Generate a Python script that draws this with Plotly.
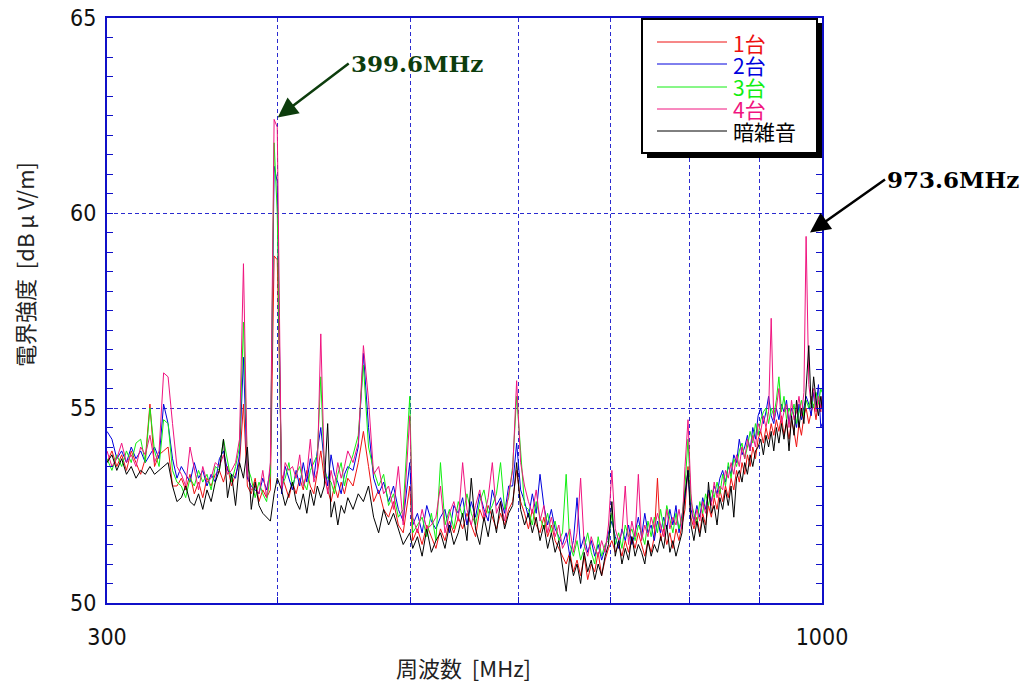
import plotly.graph_objects as go
import math

# ---------------- data ----------------
FREQ_MHZ = [
    300, 302.5, 305, 307.5, 310, 312.5, 315, 317.5, 320, 322.5,
    325, 327.5, 330, 332.5, 335, 337.5, 340, 342.5, 345, 347.5,
    350, 352.5, 355, 357.5, 360, 362.5, 365, 367.5, 370, 372.5,
    375, 377.5, 380, 382.5, 385, 387.5, 390, 392.5, 395, 397.5,
    399.6, 402.5, 405, 407.5, 410, 412.5, 415, 417.5, 420, 422.5,
    425, 427.5, 430, 432.5, 435, 437.5, 440, 442.5, 445, 447.5, 450,
    454, 458, 462, 466, 470, 474, 478, 482, 486, 490,
    494, 499.5, 502, 506, 510, 514, 518, 522, 526, 530,
    534, 538, 542, 546, 550, 554, 558, 562, 566, 570,
    574, 578, 582, 586, 590, 594, 598, 602, 606, 610,
    614, 618, 622, 626, 630, 634, 638, 642, 646, 650,
    654, 658, 662, 666, 670, 674, 678, 682, 686, 690,
    694, 698, 702, 706, 710, 714, 718, 722, 726, 730,
    734, 738, 742, 746, 750, 754, 758, 762, 766, 770,
    774, 778, 782, 786, 790, 794, 798, 802, 806, 810,
    814, 818, 822, 826, 830, 834, 838, 842, 846, 850,
    854, 858, 862, 866, 870, 874, 878, 882, 886, 890,
    894, 898, 902, 906, 910, 914, 918, 922, 926, 930,
    934, 938, 942, 946, 950, 954, 958, 962, 966, 970,
    973.6, 978, 982, 986, 990, 994, 998, 1000,
]

UNIT_1 = [
    53.6, 53.9, 53.5, 53.8, 53.4, 53.9, 53.6, 53.3, 53.7, 55.1,
    53.5, 53.8, 53.9, 54.0, 53.0, 53.0, 53.2, 52.9, 53.3, 52.8,
    53.1, 52.7, 53.2, 53.0, 53.3, 53.4, 53.1, 53.5, 53.0, 53.3,
    53.6, 55.1, 53.0, 52.8, 53.2, 52.6, 52.9, 52.7, 52.9, 58.9,
    58.8, 53.3, 53.0, 52.7, 53.1, 52.8, 53.2, 52.9, 53.4, 53.0,
    52.8, 53.3, 53.9, 53.2, 52.9, 52.6, 53.0, 52.7, 53.1, 52.8, 53.2,
    53.0, 53.6, 54.4, 53.5, 52.6, 52.9, 52.4, 52.2, 52.6, 52.0,
    51.8, 53.0, 51.6, 51.9, 51.5, 52.0, 51.7, 51.4, 51.9, 51.6,
    52.1, 51.8, 52.2, 51.9, 52.3, 52.0, 51.7, 52.4, 52.1, 52.5,
    52.2, 51.9, 52.3, 52.0, 52.4, 52.6, 53.4, 52.6, 52.3, 51.9,
    52.4, 52.0, 51.8, 52.2, 51.7, 52.0, 51.6, 51.4, 51.2, 51.0,
    51.3, 50.8, 51.1, 50.7, 51.2, 50.6, 51.0, 50.8, 51.3, 50.7,
    51.1, 51.4, 51.6, 51.3, 51.5, 51.2, 51.6, 51.3, 51.7, 51.4,
    51.8, 51.5, 51.2, 51.6, 51.3, 51.7, 53.2, 51.6, 51.9, 51.5,
    51.8, 51.4, 51.9, 51.6, 52.0, 52.4, 53.5, 52.2, 51.9, 52.2,
    51.8, 52.3, 52.0, 52.5, 52.2, 52.7, 52.4, 52.9, 52.6, 53.0,
    52.7, 53.2, 52.9, 53.4, 53.1, 53.6, 53.3, 53.8, 53.5, 54.0,
    53.7, 54.2, 54.4, 54.1, 54.5, 54.2, 54.6, 54.3, 54.7, 54.4,
    54.8, 54.3, 54.6, 54.2, 54.7, 54.4, 54.0, 54.6, 54.3, 54.8,
    55.0, 54.6, 54.9, 55.1, 54.7, 55.2, 54.9, 55.3,
]

UNIT_2 = [
    54.4, 54.2, 53.7, 53.9, 53.6, 54.0, 53.7, 53.9, 53.6, 53.8,
    54.0, 53.7, 55.1, 54.6, 53.7, 53.2, 53.5, 53.3, 53.1, 53.6,
    53.2, 53.4, 53.0, 53.3, 53.1, 53.7, 53.9, 53.4, 53.3, 53.2,
    53.8, 56.3, 53.2, 53.0, 52.9, 52.8, 53.2, 52.9, 53.4, 61.2,
    60.8, 52.8, 53.5, 53.2, 52.9, 53.4, 53.0, 53.6, 53.1, 53.7,
    53.2, 53.9, 54.5, 53.6, 53.0, 53.8, 53.3, 53.1, 52.8, 53.3, 53.5,
    53.4, 54.0, 56.4, 54.5, 53.2, 52.8, 53.1, 52.6, 53.0, 52.4,
    52.1, 53.6, 52.0, 52.3, 51.8, 52.5, 52.1, 51.9, 52.2, 52.4,
    51.8, 52.5, 52.3, 52.7, 52.0, 52.6, 52.2, 52.8, 52.4, 52.1,
    52.9, 52.5, 52.7, 52.3, 53.0, 53.0, 54.1, 52.9, 52.6, 52.2,
    52.8, 52.3, 53.3, 52.5, 52.0, 52.4, 51.9, 51.7, 51.5, 51.8,
    51.2, 51.6, 52.7, 51.4, 51.7, 51.3, 51.6, 51.2, 51.5, 51.1,
    51.4, 51.8, 52.1, 51.7, 51.4, 51.9, 51.6, 52.0, 51.5, 51.8,
    52.2, 51.7, 52.3, 51.8, 52.0, 51.6, 52.1, 51.8, 52.2, 51.9,
    52.4, 52.0, 52.5, 51.8, 52.3, 52.7, 53.4, 52.4, 52.1, 52.5,
    52.2, 52.7, 52.4, 52.9, 52.6, 53.0, 52.8, 53.2, 53.4, 53.1,
    53.5, 53.3, 53.8, 53.6, 54.2, 53.8, 54.0, 54.3, 53.9, 54.5,
    54.2, 54.8, 55.0, 54.6, 54.9, 55.3, 54.8, 54.6, 55.0, 54.7,
    55.1, 54.9, 55.2, 54.6, 55.0, 54.8, 54.5, 55.1, 54.7, 55.0,
    55.3, 55.1, 54.8, 55.4, 55.0, 55.6, 54.5, 54.6,
]

UNIT_3 = [
    53.7, 53.4, 53.8, 53.5, 53.9, 53.6, 54.1, 54.2, 53.6, 55.0,
    53.9, 53.5, 54.7, 54.6, 53.4, 53.1, 53.0, 52.7, 53.2, 53.0,
    53.4, 53.1, 53.3, 52.9, 53.5, 53.4, 54.2, 53.6, 53.1, 53.5,
    54.0, 57.2, 53.5, 53.2, 52.7, 53.1, 52.8, 52.6, 53.3, 61.8,
    60.0, 53.0, 53.2, 53.6, 53.0, 53.3, 53.5, 53.1, 52.9, 53.4,
    53.6, 53.8, 55.8, 53.4, 53.2, 53.1, 52.8, 53.3, 53.6, 53.0, 53.4,
    53.8, 54.3, 56.1, 54.0, 53.4, 53.0, 53.3, 52.5, 52.8, 52.2,
    52.4, 55.3, 51.8, 52.0, 52.2, 51.7, 52.3, 51.6, 53.6, 52.0,
    52.4, 51.9, 52.6, 52.2, 52.8, 52.3, 52.0, 52.6, 52.9, 52.3,
    52.5, 52.8, 53.6, 52.4, 52.7, 53.5, 55.3, 53.9, 52.5, 52.4,
    52.0, 52.6, 52.2, 51.9, 52.3, 51.8, 52.1, 51.6, 51.8, 53.3,
    51.5, 51.2, 51.6, 51.1, 51.4, 51.8, 51.3, 51.0, 51.7, 51.2,
    51.5, 51.6, 52.3, 51.5, 51.8, 51.4, 52.0, 51.7, 51.9, 51.6,
    52.0, 51.8, 51.5, 52.1, 51.7, 52.2, 51.8, 52.4, 51.9, 52.5,
    52.1, 51.8, 52.3, 51.9, 52.2, 53.0, 54.2, 52.6, 52.3, 52.0,
    52.6, 52.3, 52.8, 52.5, 52.9, 52.7, 53.1, 52.8, 53.3, 53.0,
    53.6, 53.2, 53.7, 53.5, 53.9, 54.1, 53.7, 54.0, 54.4, 54.1,
    54.6, 54.3, 54.7, 54.9, 55.0, 54.6, 55.0, 54.8, 55.2, 55.8,
    54.9, 55.3, 54.7, 55.0, 54.8, 55.1, 54.6, 54.9, 55.2, 54.8,
    55.2, 55.0, 55.3, 55.0, 55.4, 55.1, 55.5, 55.4,
]

UNIT_4 = [
    53.9, 53.5, 53.7, 54.1, 53.6, 53.8, 53.5, 54.0, 53.8, 54.3,
    53.6, 53.9, 55.9, 55.8, 54.6, 53.5, 53.3, 53.0, 54.0, 53.4,
    52.9, 53.5, 53.1, 53.2, 53.6, 53.5, 53.8, 53.3, 53.4, 53.6,
    54.2, 58.7, 53.3, 52.9, 53.0, 52.8, 53.4, 52.7, 53.6, 62.4,
    62.2, 52.9, 53.6, 53.4, 53.5, 53.2, 53.8, 53.0, 53.3, 54.2,
    53.1, 53.4, 56.9, 53.5, 52.8, 53.4, 53.0, 53.6, 53.2, 53.5, 53.9,
    53.6, 54.1, 56.6, 55.2, 53.3, 53.5, 52.8, 53.0, 52.4, 53.5,
    52.0, 54.8, 52.2, 51.8, 52.4, 51.9, 52.0, 52.2, 53.0, 51.8,
    52.3, 52.6, 52.1, 53.6, 52.4, 52.0, 52.5, 52.9, 52.2, 52.7,
    53.6, 52.3, 52.6, 52.1, 52.8, 53.4, 55.7, 53.6, 53.0, 52.6,
    52.3, 52.9, 52.1, 52.5, 51.8, 52.2, 51.7, 52.0, 51.4, 51.6,
    51.9, 51.3, 51.8, 53.2, 51.5, 51.2, 51.7, 51.4, 51.2, 51.6,
    51.3, 52.0, 53.4, 51.9, 51.6, 51.8, 53.0, 51.5, 52.1, 51.7,
    53.3, 51.6, 52.0, 51.7, 52.2, 51.9, 52.3, 52.0, 51.7, 52.4,
    51.9, 52.2, 52.0, 52.4, 51.9, 53.5, 54.7, 52.8, 52.0, 52.4,
    52.1, 52.6, 52.3, 52.8, 52.5, 53.1, 52.7, 53.0, 52.9, 53.4,
    53.2, 53.6, 53.3, 53.8, 53.5, 54.0, 53.7, 54.2, 53.9, 54.3,
    54.0, 54.6, 54.4, 54.8, 54.5, 54.9, 57.3, 54.7, 55.0, 55.5,
    54.6, 54.9, 55.1, 54.5, 55.2, 54.7, 54.9, 55.3, 54.8, 55.4,
    59.4, 55.6, 55.1, 55.5, 54.9, 55.3, 55.0, 55.2,
]

BACKGROUND_NOISE = [
    53.6, 53.8, 53.4, 53.7, 53.3, 53.5, 53.2, 53.4, 53.3, 53.5,
    53.3, 53.4, 53.5, 53.6, 53.0, 52.6, 52.7, 53.0, 52.6, 52.5,
    52.8, 52.4, 52.9, 52.6, 53.1, 53.4, 54.2, 52.7, 53.3, 52.5,
    53.6, 53.2, 54.0, 52.4, 53.1, 52.5, 52.3, 52.2, 52.1, 52.8,
    53.2, 52.9, 52.5, 52.8, 53.1, 52.6, 52.4, 52.8, 52.3, 52.9,
    52.5, 53.0, 52.7, 53.0, 54.6, 52.2, 52.6, 52.0, 52.5, 52.3, 52.7,
    52.4, 52.8, 52.6, 53.0, 52.2, 51.8, 52.4, 52.0, 52.3, 51.9,
    51.5, 51.8, 51.4, 51.7, 51.2, 51.9, 51.3, 51.6, 51.8, 51.4,
    52.0, 51.5, 51.8, 52.3, 51.6, 53.2, 51.9, 51.5, 52.2, 51.7,
    52.4, 51.8, 52.6, 51.9, 52.3, 52.5, 53.6, 52.4, 52.0, 52.3,
    51.8, 52.2, 51.6, 52.0, 51.4, 51.8, 51.3, 51.6, 50.9, 50.3,
    51.2, 50.7, 51.0, 50.5, 51.3, 50.8, 51.1, 50.6, 51.0, 50.7,
    51.2, 51.5, 52.6, 51.2, 51.6, 51.0, 51.4, 51.1, 51.7, 51.2,
    51.5, 51.3, 51.0, 51.6, 51.2, 51.5, 51.3, 51.7, 51.4, 52.0,
    51.3, 51.6, 51.2, 51.5, 51.8, 52.8, 53.4, 52.0, 51.6, 52.1,
    51.7, 52.2, 51.8, 53.1, 52.3, 52.5, 52.0, 52.7, 52.4, 52.9,
    52.5, 53.0, 52.2, 53.2, 53.4, 53.1, 53.6, 53.3, 53.8, 53.5,
    53.9, 54.0, 54.2, 53.8, 54.3, 54.0, 54.4, 53.9, 54.5, 54.1,
    54.6, 54.2, 54.7, 53.9, 54.8, 54.3, 55.2, 54.5, 55.0, 54.6,
    55.4, 56.6, 55.0, 55.8, 55.2, 54.8, 55.3, 55.0,
]

SERIES_NAMES = ["1台", "2台", "3台", "4台", "暗雑音"]
SERIES_VALUES = [UNIT_1, UNIT_2, UNIT_3, UNIT_4, BACKGROUND_NOISE]
SERIES_COLORS = ["#ee1111", "#0000dd", "#11ee11", "#f0147f", "#000000"]

X_TICK_VALUES = [300, 400, 500, 600, 700, 800, 900, 1000]
X_TICK_TEXT = ["300", "", "", "", "", "", "", "1000"]
Y_TICK_VALUES = [50, 55, 60, 65]
Y_RANGE = [50, 65]

PEAK_LABELS = ["399.6MHz", "973.6MHz"]
PEAK_FREQS = [399.9, 980.0]
PEAK_LEVELS = [62.45, 59.5]

for s in SERIES_VALUES:
    assert len(s) == len(FREQ_MHZ)

# ---------------- layout geometry ----------------
# The page body has an 8px margin, so the figure is placed at (8, 8) in the
# 1029x686 window; the plot area must land on x 107..822, y 18..603.
OFF = 8
W, H = 1029 - OFF, 686 - OFF
L, T = 107 - OFF, 18 - OFF
PW, PH = 715, 585
R, B = W - L - PW, H - T - PH

def px(xs):  # window pixel x -> paper x
    return (xs - OFF - L) / PW

def py(ys):  # window pixel y -> paper y
    return (T + PH - (ys - OFF)) / PH

AX_BLUE = "#1010c8"
GRID_BLUE = "#2b2bd0"
NUM_FONT = "Liberation Sans Narrow, Arial Narrow, DejaVu Sans Condensed, Liberation Sans"
JP_FONT = "Liberation Sans Narrow, Arial Narrow, Noto Sans CJK JP"

fig = go.Figure()
for name, vals, col in zip(SERIES_NAMES, SERIES_VALUES, SERIES_COLORS):
    fig.add_trace(go.Scatter(
        x=FREQ_MHZ, y=vals, mode="lines", name=name,
        line=dict(color=col, width=1), showlegend=False,
    ))

fig.update_layout(
    width=W, height=H,
    margin=dict(l=L, r=R, t=T, b=B, pad=0, autoexpand=False),
    paper_bgcolor="white", plot_bgcolor="white",
    showlegend=False,
)

fig.update_xaxes(
    type="log", range=[math.log10(300), math.log10(1000)],
    tickvals=X_TICK_VALUES, ticktext=X_TICK_TEXT,
    ticks="inside", ticklen=6, tickcolor=AX_BLUE, tickwidth=1,
    showline=True, linecolor=AX_BLUE, linewidth=2, mirror=True,
    showgrid=True, gridcolor=GRID_BLUE, griddash="4px,3px", gridwidth=1,
    tickfont=dict(family=NUM_FONT, size=23, color="#111"),
    ticklabelstandoff=12, ticklabeloverflow="allow",
    zeroline=False, automargin=False,
)
fig.update_yaxes(
    range=Y_RANGE, tickvals=Y_TICK_VALUES,
    ticks="inside", ticklen=6, tickcolor=AX_BLUE, tickwidth=1,
    minor=dict(dtick=0.5, ticks="inside", ticklen=6, tickcolor=AX_BLUE, showgrid=False),
    showline=True, linecolor=AX_BLUE, linewidth=2, mirror="ticks",
    showgrid=True, gridcolor=GRID_BLUE, griddash="4px,3px", gridwidth=1,
    tickfont=dict(family=NUM_FONT, size=23, color="#111"),
    ticklabelstandoff=4, ticklabeloverflow="allow",
    zeroline=False, automargin=False,
)

annotations = []
shapes = []

# axis titles
annotations.append(dict(
    text="電界強度  [dB μ V/m]", xref="paper", yref="paper",
    x=px(24), y=py(265), xanchor="center", yanchor="middle",
    textangle=-90, showarrow=False,
    font=dict(family=JP_FONT, size=22, color="#222"),
))
annotations.append(dict(
    text="周波数  [MHz]", xref="paper", yref="paper",
    x=px(463), y=py(667), xanchor="center", yanchor="middle",
    showarrow=False, font=dict(family=JP_FONT, size=22, color="#222"),
))

# peak labels with arrows
ann_styles = [
    dict(color="#0d3d0d", ax=71, ay=-54),
    dict(color="#000000", ax=75, ay=-53),
]
for lab, f, lv, st in zip(PEAK_LABELS, PEAK_FREQS, PEAK_LEVELS, ann_styles):
    annotations.append(dict(
        text="<b>%s</b>" % lab, x=math.log10(f), y=lv, xref="x", yref="y",
        showarrow=True, ax=st["ax"], ay=st["ay"], axref="pixel", ayref="pixel",
        xanchor="left", yanchor="middle",
        arrowhead=2, arrowsize=1.6, arrowwidth=2.5, arrowcolor=st["color"],
        font=dict(family="DejaVu Serif, Liberation Serif, serif", size=23, color=st["color"]),
    ))

# hand-built legend box (with drop shadow), as in the reference
shapes.append(dict(type="rect", xref="paper", yref="paper",
                   x0=px(647), x1=px(822), y0=py(158), y1=py(23),
                   fillcolor="black", line=dict(width=0), layer="above"))
shapes.append(dict(type="rect", xref="paper", yref="paper",
                   x0=px(642), x1=px(817), y0=py(153), y1=py(19),
                   fillcolor="white", line=dict(color="black", width=2), layer="above"))
legend_rows = [42, 64, 87, 109, 131]
for col, ypix in zip(SERIES_COLORS, legend_rows):
    shapes.append(dict(type="line", xref="paper", yref="paper",
                       x0=px(657), x1=px(727), y0=py(ypix), y1=py(ypix),
                       line=dict(color=col, width=1), layer="above"))
# legend labels: one multi-line text block (line pitch 1.3 x 17px = 22px)
legend_text = "<br>".join(
    '<span style="font-size:21px;color:%s">%s</span>' % (col, name)
    for name, col in zip(SERIES_NAMES, SERIES_COLORS)
)
annotations.append(dict(
    text=legend_text, xref="paper", yref="paper", x=px(731), y=py(87),
    xanchor="left", yanchor="middle", align="left", showarrow=False,
    font=dict(family=JP_FONT, size=17, color="black"),
))

fig.update_layout(annotations=annotations, shapes=shapes)
fig.write_html("out.html")
